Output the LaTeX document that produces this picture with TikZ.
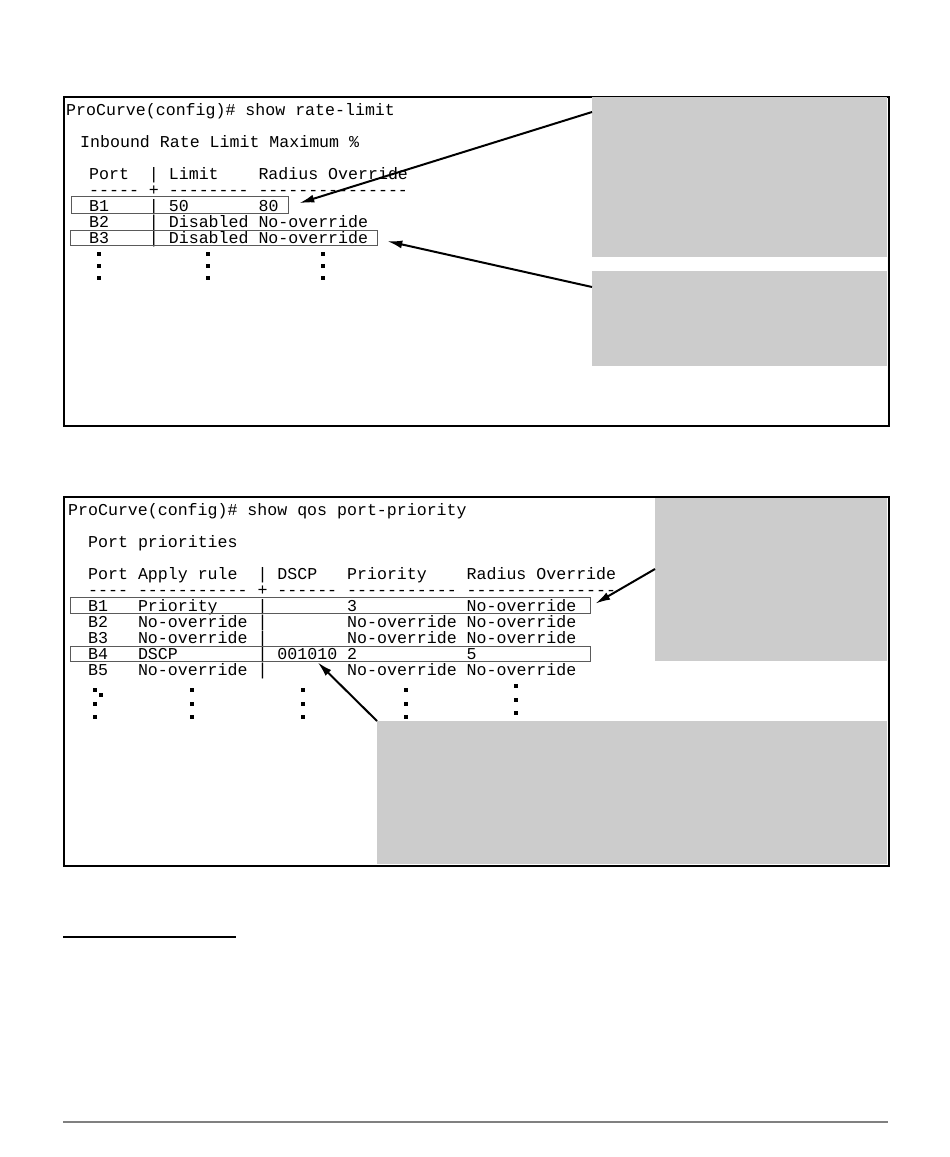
\documentclass[tikz,border=0pt]{standalone}
\usepackage{fontspec}
\setmonofont{Liberation Mono}
\usepackage{tikz}
\usetikzlibrary{positioning}
\usetikzlibrary{arrows.meta}
\definecolor{noteGray}{HTML}{CCCCCC}
\definecolor{boxGray}{HTML}{5A5A5A}
\tikzset{
    term/.style={font=\ttfamily\fontsize{16.6}{16}\selectfont, anchor=base west, inner sep=0pt}, % 终端文字
    dot/.style={rectangle, fill, inner sep=0pt, minimum size=3.2pt}, % 省略点
    screen/.style={draw, line width=2pt, inner sep=0pt, anchor=north west}, % 屏幕外框
    note/.style={fill=noteGray, inner sep=0pt, anchor=north west}, % 灰色说明框
    hilite/.style={draw=boxGray, line width=1.3pt, inner sep=0pt, anchor=north west}, % 高亮行
    callout/.style={line width=2pt, -{Latex[length=15pt, width=8pt]}} % 指示箭头
}

\begin{document}
\begin{tikzpicture}[x=1pt, y=-1pt]
    \useasboundingbox (0,0) rectangle (950,1157);

    % show rate-limit
    \node[screen, minimum width=825pt, minimum height=329pt] (scrA) at (63,96) {};
    \node[note, minimum width=295pt, minimum height=160pt] (noteA) at (592,97) {};
    \node[note, minimum width=295pt, minimum height=95pt] (noteB) at (592,271) {};

    \node[term] (cmdA) at (66,115) {ProCurve(config)\#~show~rate-limit};
    \node[term] (ttlA) at (80,147) {Inbound~Rate~Limit~Maximum~\%};
    \node[term] (hdrA) at (89,179) {Port~~|~Limit~~~~Radius~Override};
    \node[term] (sepA) at (89,195) {-----~+~--------~---------------};
    \node[term] (rowA1) at (89,211) {B1~~~~|~50~~~~~~~80};
    \node[term] (rowA2) at (89,227) {B2~~~~|~Disabled~No-override};
    \node[term] (rowA3) at (89,243) {B3~~~~|~Disabled~No-override};

    \foreach \x in {99,208,323}
        \foreach \y in {254,266,278}
            \node[dot] at (\x,\y) {};

    \node[hilite, minimum width=217pt, minimum height=17pt] (hlB1) at (71,196) {};
    \node[hilite, minimum width=307pt, minimum height=15pt] (hlB3) at (70,230) {};

    \draw[callout] ([yshift=-15pt]noteA.north west) -- ([xshift=10pt,yshift=2pt]hlB1.east);
    \draw[callout] ([yshift=-16pt]noteB.north west) -- ([xshift=9pt,yshift=-3pt]hlB3.east);

    % show qos port-priority
    \node[screen, minimum width=825pt, minimum height=369pt] (scrB) at (63,496) {};
    \node[note, minimum width=232pt, minimum height=163pt] (noteC) at (655,498) {};
    \node[note, minimum width=510pt, minimum height=143pt] (noteD) at (377,721) {};

    \node[term] (cmdB) at (68,515) {ProCurve(config)\#~show~qos~port-priority};
    \node[term] (ttlB) at (88,547) {Port~priorities};
    \node[term] (hdrB) at (88,579) {Port~Apply~rule~~|~DSCP~~~Priority~~~~Radius~Override};
    \node[term] (sepB) at (88,595) {----~-----------~+~------~-----------~---------------};
    \node[term] (rowB1) at (88,611) {B1~~~Priority~~~~|~~~~~~~~3~~~~~~~~~~~No-override};
    \node[term] (rowB2) at (88,627) {B2~~~No-override~|~~~~~~~~No-override~No-override};
    \node[term] (rowB3) at (88,643) {B3~~~No-override~|~~~~~~~~No-override~No-override};
    \node[term] (rowB4) at (88,659) {B4~~~DSCP~~~~~~~~|~001010~2~~~~~~~~~~~5};
    \node[term] (rowB5) at (88,675) {B5~~~No-override~|~~~~~~~~No-override~No-override};

    \foreach \x in {95,192,303,406}
        \foreach \y in {690,704,717}
            \node[dot] at (\x,\y) {};
    \foreach \y in {686,700,713}
        \node[dot] at (516,\y) {};
    \node[dot] at (101,695) {};

    \node[hilite, minimum width=520pt, minimum height=16pt] (hlP1) at (70,597) {};
    \node[hilite, minimum width=520pt, minimum height=15pt] (hlP4) at (70,646) {};

    \draw[callout] ([yshift=-71pt]noteC.north west) -- ([xshift=4pt,yshift=2pt]hlP1.east);
    \draw[callout] (noteD.north west) -- ([xshift=-13pt]hlP4.south);

    % 脚注线
    \draw[line width=2.5pt] (63,937) -- (236,937);
    \draw[line width=1.5pt, draw=gray] (63,1122) -- (888,1122);

\end{tikzpicture}
\end{document}
